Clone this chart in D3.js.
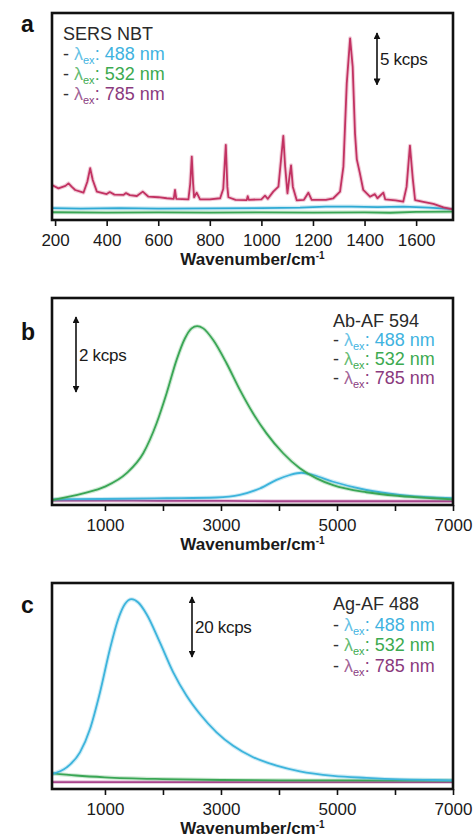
<!DOCTYPE html>
<html>
<head>
<meta charset="utf-8">
<script src="https://cdn.jsdelivr.net/npm/d3@7"></script>
<style>
  html, body { margin: 0; padding: 0; background: #fff; }
  svg { display: block; font-family: "Liberation Sans", Arial, Helvetica, sans-serif; }
</style>
</head>
<body>
<svg id="fig" width="474" height="838"></svg>
<script>
// ---- Data (wavenumber in cm^-1, intensity in kcps) ----
const ticksA = [200, 400, 600, 800, 1000, 1200, 1400, 1600];
const ticksBC = [1000, 2000, 3000, 4000, 5000, 6000, 7000];
const tickLabelsBC = [1000, 3000, 5000, 7000];
const excitations = ["488 nm", "532 nm", "785 nm"];

// a: SERS of NBT
const sersNBT488 = [[188,1.15],[300,1.1],[450,1.15],[600,1.1],[800,1.12],[1000,1.15],[1150,1.2],[1250,1.3],[1350,1.3],[1450,1.25],[1550,1.3],[1650,1.2],[1743,1.05]];
const sersNBT532 = [[188,0.75],[400,0.72],[600,0.74],[800,0.72],[1000,0.73],[1200,0.72],[1400,0.74],[1500,0.7],[1600,0.78],[1743,0.8]];
const sersNBT785 = [[188,3.38],[213,3.06],[240,3.3],[252,3.54],[265,3.2],[278,2.9],[310,2.64],[325,3.7],[336,5.0],[346,3.86],[362,2.74],[400,2.51],[412,2.7],[430,2.45],[465,2.42],[475,2.6],[490,2.4],[517,2.32],[540,2.74],[562,2.25],[600,2.2],[633,2.1],[660,2.05],[665,2.9],[670,2.05],[717,2.0],[724,3.5],[730,6.12],[735,3.6],[739,2.2],[749,2.64],[762,2.0],[800,2.0],[840,2.1],[852,3.0],[862,7.25],[868,3.2],[872,2.2],[900,1.95],[943,1.93],[947,2.3],[951,1.95],[1000,2.0],[1014,2.35],[1025,2.05],[1046,2.74],[1066,3.22],[1076,5.8],[1085,8.12],[1092,5.2],[1101,2.58],[1108,4.0],[1115,5.28],[1122,3.2],[1137,1.9],[1165,1.95],[1182,2.64],[1195,1.95],[1250,1.95],[1279,2.1],[1305,2.74],[1318,5.15],[1331,13.2],[1344,17.55],[1354,14.8],[1363,8.37],[1370,5.86],[1382,4.5],[1395,2.9],[1421,2.25],[1440,2.5],[1450,2.1],[1473,2.64],[1480,2.0],[1520,1.9],[1550,1.77],[1563,3.2],[1576,7.18],[1587,4.0],[1596,1.93],[1628,1.75],[1667,1.55],[1706,1.22],[1743,1.03]];

// b: Ab-AF 594
const abAF594_488 = [[90,0.15],[914,0.16],[2063,0.18],[2924,0.2],[3326,0.27],[3670,0.44],[3958,0.67],[4187,0.8],[4388,0.86],[4589,0.8],[4933,0.62],[5508,0.4],[6082,0.27],[6660,0.2],[6990,0.18]];
const abAF594_532 = [[90,0.13],[626,0.31],[1000,0.49],[1374,0.85],[1660,1.38],[1890,2.18],[2063,2.98],[2235,3.87],[2378,4.44],[2494,4.71],[2590,4.77],[2694,4.71],[2866,4.4],[3096,3.78],[3326,3.07],[3555,2.44],[3785,1.91],[4072,1.38],[4359,0.98],[4647,0.71],[4933,0.53],[5508,0.34],[6082,0.24],[6660,0.18],[6990,0.15]];
const abAF594_785 = [[90,0.12],[1000,0.12],[2000,0.11],[3000,0.11],[4000,0.1],[5000,0.1],[6000,0.1],[6990,0.1]];

// c: Ag-AF 488
const agAF488_488 = [[90,5.0],[340,7.2],[569,12.2],[742,20.0],[914,32.2],[1086,46.7],[1229,56.7],[1345,61.7],[1460,63.3],[1574,62.2],[1718,58.3],[1947,48.9],[2177,38.9],[2407,31.1],[2637,25.0],[2924,18.9],[3210,14.4],[3555,10.6],[3958,7.8],[4359,5.9],[4933,4.4],[5508,3.7],[6082,3.2],[6660,3.0],[6990,2.9]];
const agAF488_532 = [[90,5.2],[500,4.5],[1000,3.9],[2000,3.3],[3000,3.0],[4000,2.9],[5000,2.85],[6990,2.8]];
const agAF488_785 = [[90,2.3],[2000,2.3],[4000,2.3],[6990,2.3]];

// ---- Styling ----
const lineColors = { "488 nm": "#3db4dc", "532 nm": "#3aa655", "785 nm": "#a8438c" };
const textColors = { "488 nm": "#3fb3e0", "532 nm": "#3caa50", "785 nm": "#8a3a7e" };

const svg = d3.select("#fig");
const X0 = 52, X1 = 453;

const panels = [
  {
    letter: "a", letterY: 32, top: 13, bottom: 220,
    xDomain: [188, 1743], yMax: 20, ticks: ticksA, labels: ticksA, curve: d3.curveLinear,
    series: [["488 nm", sersNBT488, "#2faad4"], ["532 nm", sersNBT532, "#3aa655"], ["785 nm", sersNBT785, "#c23262"]],
    legend: { title: "SERS NBT", x: 63, y: 40, dy: 20 },
    bar: { value: 5, text: "5 kcps", x: 377, top: 33 }
  },
  {
    letter: "b", letterY: 340, top: 298, bottom: 505,
    xDomain: [87, 7000], yMax: 5.52, ticks: ticksBC, labels: tickLabelsBC, curve: d3.curveMonotoneX,
    series: [["785 nm", abAF594_785, lineColors["785 nm"]], ["488 nm", abAF594_488, lineColors["488 nm"]], ["532 nm", abAF594_532, lineColors["532 nm"]]],
    legend: { title: "Ab-AF 594", x: 333, y: 327, dy: 19 },
    bar: { value: 2, text: "2 kcps", x: 76, top: 317 }
  },
  {
    letter: "c", letterY: 613, top: 583, bottom: 789,
    xDomain: [87, 7000], yMax: 68.7, ticks: ticksBC, labels: tickLabelsBC, curve: d3.curveMonotoneX,
    series: [["785 nm", agAF488_785, lineColors["785 nm"]], ["532 nm", agAF488_532, lineColors["532 nm"]], ["488 nm", agAF488_488, lineColors["488 nm"]]],
    legend: { title: "Ag-AF 488", x: 333, y: 610, dy: 20.5 },
    bar: { value: 20, text: "20 kcps", x: 192, top: 597 }
  }
];

// arrowhead marker for the intensity scale bars
const defs = svg.append("defs");
defs.append("marker")
  .attr("id", "head").attr("viewBox", "0 0 10 10").attr("refX", 9).attr("refY", 5)
  .attr("markerWidth", 7).attr("markerHeight", 7).attr("markerUnits", "userSpaceOnUse")
  .attr("orient", "auto-start-reverse")
  .append("path").attr("d", "M0,0 L10,5 L0,10 Z").attr("fill", "#111");

panels.forEach((p, i) => {
  const g = svg.append("g");
  const x = d3.scaleLinear().domain(p.xDomain).range([X0, X1]);
  const y = d3.scaleLinear().domain([0, p.yMax]).range([p.bottom, p.top]);

  const clipId = "clip" + i;
  defs.append("clipPath").attr("id", clipId)
    .append("rect").attr("x", X0).attr("y", p.top).attr("width", X1 - X0).attr("height", p.bottom - p.top);

  // spectra
  const line = d3.line().x(d => x(d[0])).y(d => y(d[1])).curve(p.curve);
  const plot = g.append("g").attr("clip-path", `url(#${clipId})`);
  p.series.forEach(([name, data, color]) => {
    plot.append("path").datum(data).attr("d", line)
      .attr("fill", "none").attr("stroke", color).attr("stroke-opacity", 0.25)
      .attr("stroke-width", 4).attr("stroke-linejoin", "round");
    plot.append("path").datum(data).attr("d", line)
      .attr("fill", "none").attr("stroke", color)
      .attr("stroke-width", 1.8).attr("stroke-linejoin", "round");
  });

  // bottom axis
  const axis = d3.axisBottom(x).tickValues(p.ticks).tickSize(6).tickPadding(5)
    .tickFormat(d => p.labels.includes(d) ? d : "");
  const ax = g.append("g").attr("transform", `translate(0,${p.bottom})`).call(axis);
  ax.select(".domain").remove();
  ax.selectAll(".tick line").attr("stroke", "#111").attr("stroke-width", 1.6);
  ax.selectAll(".tick text").attr("font-size", 17).attr("fill", "#1a1a1a")
    .attr("font-family", "'Liberation Sans', Arial, sans-serif").attr("dy", null).attr("y", 26);

  // frame
  g.append("rect").attr("x", X0).attr("y", p.top).attr("width", X1 - X0).attr("height", p.bottom - p.top)
    .attr("fill", "none").attr("stroke", "#111").attr("stroke-width", 2.6);

  // axis title
  const t = g.append("text").attr("x", (X0 + X1) / 2).attr("y", p.bottom + 45)
    .attr("text-anchor", "middle").attr("font-size", 17).attr("font-weight", "bold").attr("fill", "#1a1a1a");
  t.append("tspan").text("Wavenumber/cm");
  t.append("tspan").text("-1").attr("font-size", 10).attr("dy", -6);

  // panel letter
  g.append("text").attr("x", 21).attr("y", p.letterY).text(p.letter)
    .attr("font-size", 23).attr("font-weight", "bold").attr("fill", "#111");

  // legend
  const lg = g.append("g").attr("font-size", 18);
  lg.append("text").attr("x", p.legend.x).attr("y", p.legend.y).text(p.legend.title).attr("fill", "#2a2a2a");
  excitations.forEach((name, k) => {
    const tx = lg.append("text").attr("x", p.legend.x).attr("y", p.legend.y + p.legend.dy * (k + 1));
    tx.append("tspan").text("- ").attr("fill", "#333");
    tx.append("tspan").text("λ").attr("fill", textColors[name]).attr("fill-opacity", 0.8);
    tx.append("tspan").text("ex").attr("font-size", 11).attr("dy", 4).attr("fill", textColors[name]);
    tx.append("tspan").text(": ").attr("dy", -4).attr("fill", textColors[name]);
    tx.append("tspan").text(name).attr("fill", textColors[name]);
  });

  // intensity scale bar, length taken from the y scale
  const len = y(0) - y(p.bar.value);
  g.append("line").attr("x1", p.bar.x).attr("x2", p.bar.x)
    .attr("y1", p.bar.top).attr("y2", p.bar.top + len)
    .attr("stroke", "#111").attr("stroke-width", 1.6)
    .attr("marker-start", "url(#head)").attr("marker-end", "url(#head)");
  g.append("text").attr("x", p.bar.x + 3).attr("y", p.bar.top + len / 2 + 6)
    .text(p.bar.text).attr("font-size", 17).attr("fill", "#1a1a1a").attr("letter-spacing", -0.3);
});
</script>
</body>
</html>
